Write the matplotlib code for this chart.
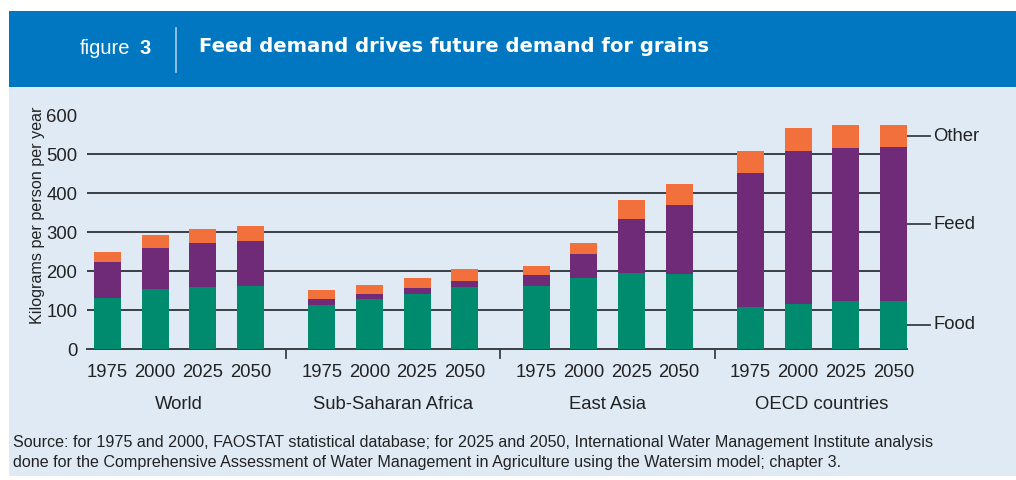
import matplotlib
matplotlib.use("Agg")
import matplotlib.pyplot as plt
from matplotlib.patches import Rectangle
import numpy as np

plt.rcParams['font.family'] = ['Liberation Sans', 'DejaVu Sans']

regions = ['World', 'Sub-Saharan Africa', 'East Asia', 'OECD countries']
years = ['1975', '2000', '2025', '2050']

# kg per person per year, one row per region, one column per year
food = [[131, 154, 159, 162],
        [113, 128, 141, 159],
        [162, 183, 195, 193],
        [108, 116, 123, 123]]
feed = [[93, 106, 113, 116],
        [15, 13, 16, 16],
        [28, 61, 139, 177],
        [344, 393, 394, 396]]
other = [[25, 33, 36, 38],
         [24, 24, 26, 30],
         [23, 28, 49, 54],
         [57, 59, 59, 57]]

GREEN = '#008a6e'
PURPLE = '#6f2a78'
ORANGE = '#f2703c'
BLUE = '#0077c0'
LIGHT = '#e0eaf5'

W, H = 1016, 480
fig = plt.figure(figsize=(W / 100, H / 100), dpi=100)
fig.patch.set_facecolor('white')


def fx(px):
    return px / W


def fy(py):
    return 1 - py / H


# background panels
fig.patches.append(Rectangle((fx(9), fy(476)), fx(W - 9), (476 - 11) / H,
                             transform=fig.transFigure, facecolor=LIGHT,
                             edgecolor='none', zorder=-2))
fig.patches.append(Rectangle((fx(9), fy(87)), fx(W - 9), (87 - 11) / H,
                             transform=fig.transFigure, facecolor=BLUE,
                             edgecolor='none', zorder=-1))

# header
fig.text(fx(80), fy(48), 'figure', color='white', fontsize=14.5,
         va='center', ha='left')
fig.text(fx(139), fy(48), '3', color='white', fontsize=14.5,
         fontweight='bold', va='center', ha='left')
fig.add_artist(plt.Line2D([fx(176), fx(176)], [fy(28), fy(72)],
                          color='#a9cbe8', lw=1.2, transform=fig.transFigure))
fig.text(fx(199), fy(47), 'Feed demand drives future demand for grains',
         color='white', fontsize=14.1, fontweight='bold', va='center',
         ha='left', family='DejaVu Sans')

# axes
ax = fig.add_axes([fx(87), fy(349), fx(907 - 87), (349 - 115.4) / H])
ax.set_facecolor('none')

gap = 4.5
width = 0.57
for g in range(len(regions)):
    x = g * gap + np.arange(len(years))
    f = np.array(food[g])
    fd = np.array(feed[g])
    o = np.array(other[g])
    ax.bar(x, f, width, color=GREEN, zorder=3)
    ax.bar(x, fd, width, bottom=f, color=PURPLE, zorder=3)
    ax.bar(x, o, width, bottom=f + fd, color=ORANGE, zorder=3)

ax.set_xlim(-0.43, 3 * gap + 3 + width / 2)
ax.set_ylim(0, 600)

for v in range(100, 600, 100):
    ax.axhline(v, color='#3a3f45', lw=1.4, zorder=1)

for s in ['top', 'right', 'left']:
    ax.spines[s].set_visible(False)
ax.spines['bottom'].set_color('#3a3f45')
ax.spines['bottom'].set_linewidth(1.4)

ax.set_yticks(range(0, 700, 100))
ax.tick_params(axis='y', length=0, labelsize=13.3, colors='#222222', pad=7)

xt = [g * gap + i for g in range(len(regions)) for i in range(len(years))]
ax.set_xticks(xt)
ax.set_xticklabels(years * len(regions))
ax.tick_params(axis='x', length=0, labelsize=13.3, colors='#222222', pad=11)

# group separators below the axis
for g in range(1, len(regions)):
    sx = g * gap - (gap - 3) / 2
    ax.plot([sx, sx], [0, -24], color='#3a3f45', lw=1.3, clip_on=False)

for g, name in enumerate(regions):
    ax.text(g * gap + 1.5, -143, name, ha='center', va='center',
            fontsize=13.3, color='#222222')

ax.set_ylabel('Kilograms per person per year', fontsize=11.6,
              color='#222222')
ax.yaxis.set_label_coords(-0.051, 0.574)

# series labels on the right
xr = 3 * gap + 3 + width / 2
for yv, lab in [(546, 'Other'), (321, 'Feed'), (62, 'Food')]:
    ax.plot([xr, xr + 0.48], [yv, yv], color='#3a3f45', lw=1.3,
            clip_on=False)
    ax.text(xr + 0.55, yv, lab, va='center', ha='left', fontsize=13.3,
            color='#222222')

src = ('Source: for 1975 and 2000, FAOSTAT statistical database; for 2025 and 2050, '
       'International Water Management Institute analysis\n'
       'done for the Comprehensive Assessment of Water Management in Agriculture '
       'using the Watersim model; chapter 3.')
fig.text(fx(13), fy(452.5), src, fontsize=11.6, color='#222222', va='center',
         ha='left', linespacing=1.4)

fig.savefig('out.png', dpi=100, facecolor='white')
